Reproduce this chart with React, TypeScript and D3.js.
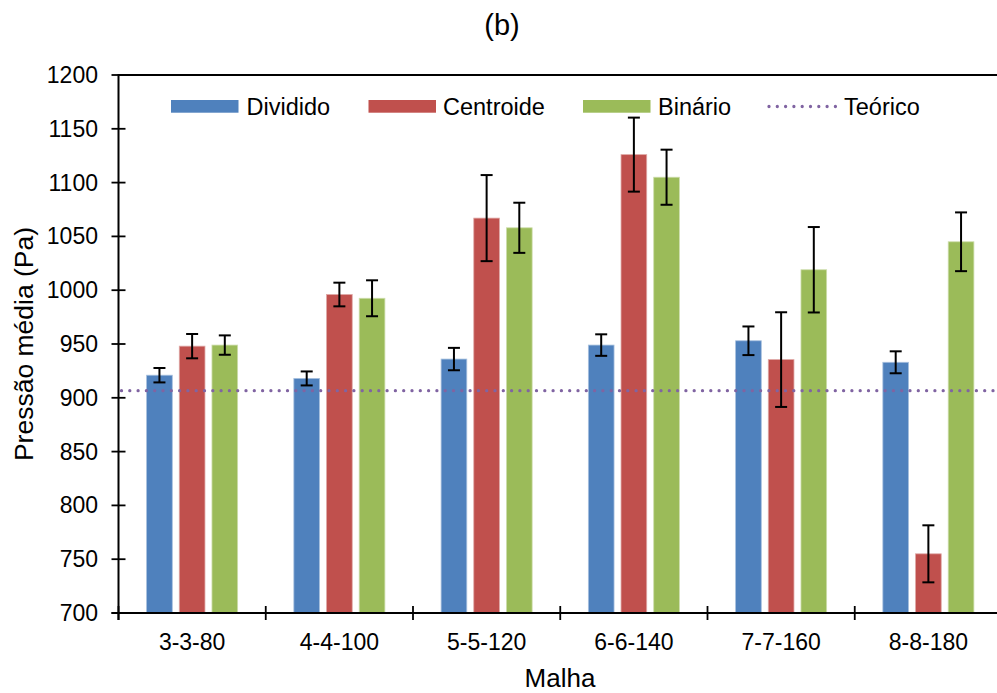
import React from "react";
import * as d3 from "d3";

const categories = ["3-3-80", "4-4-100", "5-5-120", "6-6-140", "7-7-160", "8-8-180"];
const seriesNames = ["Dividido", "Centroide", "Binário"];
const dividido = [921, 918, 936, 949, 953, 933];
const divididoErr = [6.7, 6.5, 10.4, 10, 13.3, 10.2];
const centroide = [948, 996, 1067, 1126, 935.5, 755];
const centroideErr = [11.3, 11, 40, 34.4, 44, 26.5];
const binario = [949, 992.5, 1058, 1105, 1019, 1045];
const binarioErr = [9, 16.7, 23.3, 25.6, 39.7, 27.3];
const teorico = 906.6;
const yTicks = [700, 750, 800, 850, 900, 950, 1000, 1050, 1100, 1150, 1200];
const colors = ["#4F81BD", "#C0504D", "#9BBB59"];
const strokes = ["#A7C0DE", "#DFA8A6", "#CDDDAC"];
const teoricoColor = "#8064A2";

const W = 997;
const H = 693;
const left = 118.5;
const right = 1002;
const top = 75;
const bottom = 613;
const font = "'Liberation Sans', Arial, sans-serif";

export default function App() {
  const x = d3.scaleBand<string>().domain(categories).range([left, right]).padding(0);
  const inner = d3
    .scaleBand<string>()
    .domain(seriesNames)
    .range([0, x.bandwidth()])
    .paddingInner(0.214)
    .paddingOuter(0.86);
  const y = d3.scaleLinear().domain([700, 1200]).range([bottom, top]);
  const values = [dividido, centroide, binario];
  const errs = [divididoErr, centroideErr, binarioErr];
  const tickPos = categories.map((c) => x(c)!).concat([right]);

  const legendItems = [
    { sx: 171, tx: 246.5 },
    { sx: 368.5, tx: 443 },
    { sx: 583, tx: 658 },
  ];

  return (
    <svg
      width={W}
      height={H}
      style={{ position: "absolute", left: 0, top: 0, background: "#fff" }}
      fontFamily={font}
    >
      <rect x={0} y={0} width={W} height={H} fill="#fff" />
      {/* title */}
      <text x={502} y={34.5} fontSize={29} textAnchor="middle" fill="#000">
        (b)
      </text>
      {/* top border */}
      <line x1={left} x2={right} y1={top} y2={top} stroke="#000" strokeWidth={1.8} />
      <line x1={right - 1} x2={right - 1} y1={top} y2={bottom} stroke="#000" strokeWidth={1.8} />

      {/* bars */}
      {seriesNames.map((s, si) =>
        categories.map((c, ci) => {
          const v = values[si][ci];
          const bx = x(c)! + inner(s)!;
          return (
            <rect
              key={s + c}
              x={bx}
              y={y(v)}
              width={inner.bandwidth()}
              height={bottom - y(v)}
              fill={colors[si]}
              stroke={strokes[si]}
              strokeWidth={0.8}
            />
          );
        })
      )}

      {/* theoretical line */}
      <line
        x1={left + 3}
        x2={right}
        y1={y(teorico)}
        y2={y(teorico)}
        stroke={teoricoColor}
        strokeWidth={3.3}
        strokeDasharray="0 8.3"
        strokeLinecap="round"
      />

      {/* error bars */}
      {seriesNames.map((s, si) =>
        categories.map((c, ci) => {
          const v = values[si][ci];
          const e = errs[si][ci];
          const cx = x(c)! + inner(s)! + inner.bandwidth() / 2;
          const y1 = y(v + e);
          const y2 = y(v - e);
          return (
            <g key={"e" + s + c} stroke="#000" strokeWidth={2}>
              <line x1={cx} x2={cx} y1={y1} y2={y2} />
              <line x1={cx - 6} x2={cx + 6} y1={y1} y2={y1} />
              <line x1={cx - 6} x2={cx + 6} y1={y2} y2={y2} />
            </g>
          );
        })
      )}

      {/* y axis */}
      <line x1={left} x2={left} y1={top - 1} y2={bottom + 7} stroke="#000" strokeWidth={2} />
      {yTicks.map((t) => (
        <g key={t}>
          <line x1={left - 7} x2={left + 7} y1={y(t)} y2={y(t)} stroke="#000" strokeWidth={1.8} />
          <text
            x={98}
            y={y(t)}
            dy="0.35em"
            fontSize={23}
            textAnchor="end"
            fill="#000"
          >
            {t}
          </text>
        </g>
      ))}

      {/* x axis */}
      <line x1={left - 7} x2={right} y1={bottom} y2={bottom} stroke="#000" strokeWidth={2} />
      {tickPos.map((p, i) => (
        <line key={"xt" + i} x1={p} x2={p} y1={bottom - 7} y2={bottom + 7} stroke="#000" strokeWidth={1.8} />
      ))}
      {categories.map((c) => (
        <text
          key={"xl" + c}
          x={x(c)! + x.bandwidth() / 2}
          y={650}
          fontSize={23}
          textAnchor="middle"
          fill="#000"
        >
          {c}
        </text>
      ))}

      {/* axis titles */}
      <text x={560} y={686.5} fontSize={26} textAnchor="middle" fill="#000">
        Malha
      </text>
      <text
        transform={`translate(33,${(top + bottom) / 2}) rotate(-90)`}
        fontSize={26.5}
        textAnchor="middle"
        fill="#000"
      >
        Pressão média (Pa)
      </text>

      {/* legend */}
      {seriesNames.map((s, si) => (
        <g key={"lg" + s}>
          <rect x={legendItems[si].sx} y={100} width={67.5} height={12.7} fill={colors[si]} />
          <text x={legendItems[si].tx} y={114.5} fontSize={23.5} fill="#000">
            {s}
          </text>
        </g>
      ))}
      <line
        x1={769}
        x2={837}
        y1={106.5}
        y2={106.5}
        stroke={teoricoColor}
        strokeWidth={3.3}
        strokeDasharray="0 8.3"
        strokeLinecap="round"
      />
      <text x={844} y={114.5} fontSize={23.5} fill="#000">
        Teórico
      </text>
    </svg>
  );
}
